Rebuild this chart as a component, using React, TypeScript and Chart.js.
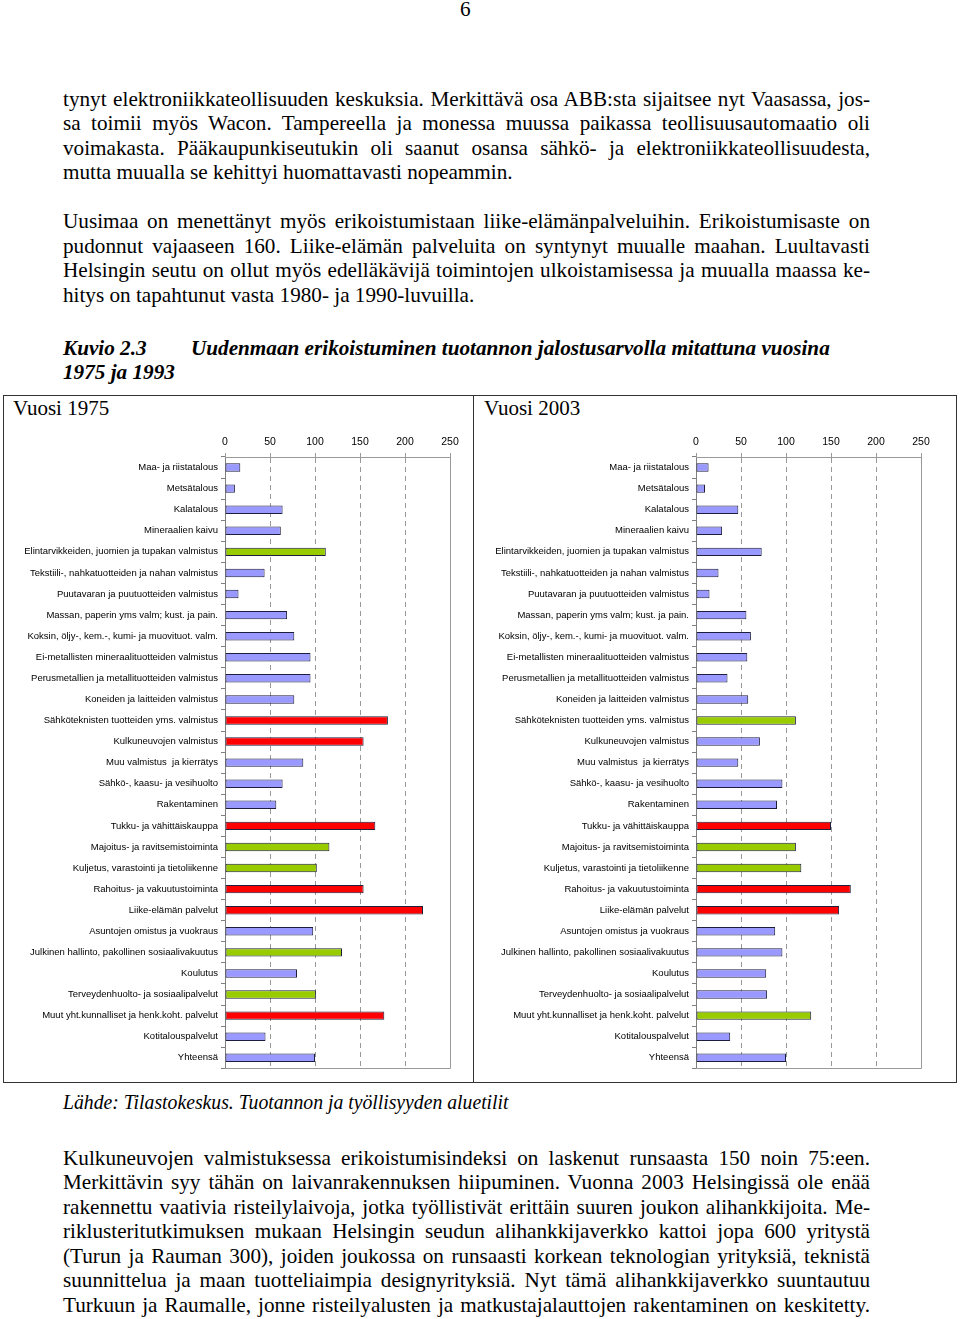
import React, { useEffect, useRef } from 'react';
import { Chart, registerables } from 'chart.js';

Chart.register(...registerables);

// ---------- chart data ----------
const categories: string[] = [
  'Maa- ja riistatalous',
  'Metsätalous',
  'Kalatalous',
  'Mineraalien kaivu',
  'Elintarvikkeiden, juomien ja tupakan valmistus',
  'Tekstiili-, nahkatuotteiden ja nahan valmistus',
  'Puutavaran ja puutuotteiden valmistus',
  'Massan, paperin yms valm; kust. ja pain.',
  'Koksin, öljy-, kem.-, kumi- ja muovituot. valm.',
  'Ei-metallisten mineraalituotteiden valmistus',
  'Perusmetallien ja metallituotteiden valmistus',
  'Koneiden ja laitteiden valmistus',
  'Sähköteknisten tuotteiden yms. valmistus',
  'Kulkuneuvojen valmistus',
  'Muu valmistus  ja kierrätys',
  'Sähkö-, kaasu- ja vesihuolto',
  'Rakentaminen',
  'Tukku- ja vähittäiskauppa',
  'Majoitus- ja ravitsemistoiminta',
  'Kuljetus, varastointi ja tietoliikenne',
  'Rahoitus- ja vakuutustoiminta',
  'Liike-elämän palvelut',
  'Asuntojen omistus ja vuokraus',
  'Julkinen hallinto, pakollinen sosiaalivakuutus',
  'Koulutus',
  'Terveydenhuolto- ja sosiaalipalvelut',
  'Muut yht.kunnalliset ja henk.koht. palvelut',
  'Kotitalouspalvelut',
  'Yhteensä',
];

const values1975: number[] = [
  17, 11, 64, 62, 112, 44, 15, 69, 77, 95, 95, 77, 181, 154, 87, 64, 57, 167, 116,
  102, 154, 220, 98, 130, 80, 101, 177, 45, 100,
];

const values2003: number[] = [
  14, 10, 47, 29, 73, 25, 15, 56, 61, 57, 35, 58, 111, 71, 47, 96, 90, 150, 111,
  117, 172, 159, 88, 96, 78, 79, 128, 38, 100,
];

const xTickValues: number[] = [0, 50, 100, 150, 200, 250];

// ---------- page text ----------
const para1: string[] = [
  'tynyt elektroniikkateollisuuden keskuksia. Merkittävä osa ABB:sta sijaitsee nyt Vaasassa, jos-',
  'sa toimii myös Wacon. Tampereella ja monessa muussa paikassa teollisuusautomaatio oli',
  'voimakasta. Pääkaupunkiseutukin oli saanut osansa sähkö- ja elektroniikkateollisuudesta,',
  'mutta muualla se kehittyi huomattavasti nopeammin.',
];
const para2: string[] = [
  'Uusimaa on menettänyt myös erikoistumistaan liike-elämänpalveluihin. Erikoistumisaste on',
  'pudonnut vajaaseen 160. Liike-elämän palveluita on syntynyt muualle maahan. Luultavasti',
  'Helsingin seutu on ollut myös edelläkävijä toimintojen ulkoistamisessa ja muualla maassa ke-',
  'hitys on tapahtunut vasta 1980- ja 1990-luvuilla.',
];
const para3: string[] = [
  'Kulkuneuvojen valmistuksessa erikoistumisindeksi on laskenut runsaasta 150 noin 75:een.',
  'Merkittävin syy tähän on laivanrakennuksen hiipuminen. Vuonna 2003 Helsingissä ole enää',
  'rakennettu vaativia risteilylaivoja, jotka työllistivät erittäin suuren joukon alihankkijoita. Me-',
  'riklusteritutkimuksen mukaan Helsingin seudun alihankkijaverkko kattoi jopa 600 yritystä',
  '(Turun ja Rauman 300), joiden joukossa on runsaasti korkean teknologian yrityksiä, teknistä',
  'suunnittelua ja maan tuotteliaimpia designyrityksiä. Nyt tämä alihankkijaverkko suuntautuu',
  'Turkuun ja Raumalle, jonne risteilyalusten ja matkustajalauttojen rakentaminen on keskitetty.',
];

const BLUE = '#9999FF';
const GREEN = '#99CC00';
const RED = '#FF0000';

function colorFor(v: number): string {
  if (v >= 150) return RED;
  if (v > 100) return GREEN;
  return BLUE;
}

const plotFrame = {
  id: 'plotFrame',
  afterDatasetsDraw(chart: any) {
    const { ctx, chartArea: a } = chart;
    ctx.save();
    ctx.strokeStyle = '#9a9a9a';
    ctx.lineWidth = 1;
    ctx.setLineDash([]);
    ctx.beginPath();
    ctx.moveTo(a.left, Math.round(a.top) + 0.5);
    ctx.lineTo(Math.round(a.right) + 0.5, Math.round(a.top) + 0.5);
    ctx.lineTo(Math.round(a.right) + 0.5, Math.round(a.bottom) + 0.5);
    ctx.lineTo(a.left, Math.round(a.bottom) + 0.5);
    ctx.stroke();
    ctx.restore();
  },
};

const LABEL_FONT = "'Liberation Sans', Arial, sans-serif";

function BarPanel({ values, left, top }: { values: number[]; left: number; top: number }) {
  const ref = useRef<HTMLCanvasElement | null>(null);
  useEffect(() => {
    if (!ref.current) return;
    const chart = new Chart(ref.current, {
      type: 'bar',
      data: {
        labels: categories,
        datasets: [
          {
            data: values,
            backgroundColor: values.map(colorFor),
            borderColor: '#1d1d3d',
            borderWidth: 1,
            borderSkipped: false,
            barPercentage: 0.4,
            categoryPercentage: 1,
          },
        ],
      },
      options: {
        indexAxis: 'y',
        animation: false,
        responsive: false,
        maintainAspectRatio: false,
        layout: { padding: { left: 0, right: 20, top: 0, bottom: 6 } },
        plugins: { legend: { display: false }, tooltip: { enabled: false } },
        scales: {
          x: {
            position: 'top',
            min: 0,
            max: 250,
            afterBuildTicks: (s: any) => {
              s.ticks = xTickValues.map((v) => ({ value: v }));
            },
            afterFit: (s: any) => {
              s.height = 32;
            },
            grid: {
              color: '#999999',
              lineWidth: 1,
              drawTicks: true,
              tickLength: 4,
              tickColor: '#9a9a9a',
            },
            border: { display: true, color: '#9a9a9a', dash: [5, 4] },
            ticks: {
              color: '#000',
              padding: 5,
              font: { family: LABEL_FONT, size: 10.5 },
            },
          },
          y: {
            afterFit: (s: any) => {
              s.width = 215;
            },
            grid: {
              display: true,
              drawOnChartArea: false,
              drawTicks: true,
              tickLength: 4,
              tickColor: '#808080',
              offset: true,
            },
            border: { display: true, color: '#808080' },
            ticks: {
              autoSkip: false,
              color: '#000',
              padding: 3,
              font: { family: LABEL_FONT, size: 9.5 },
            },
          },
        },
      },
      plugins: [plotFrame],
    } as any);
    return () => chart.destroy();
  }, [values]);
  return (
    <canvas
      ref={ref}
      width={460}
      height={652}
      style={{ position: 'absolute', left, top, width: 460, height: 652 }}
    />
  );
}

const SERIF = "'Liberation Serif', 'Times New Roman', serif";
const FS = 21.2;

function TextLine({
  text,
  center,
  justify,
  left = 63,
  width = 807,
  italic = false,
  bold = false,
  size = FS,
  squeeze = 1,
}: {
  text: string;
  center: number;
  justify?: boolean;
  left?: number;
  width?: number;
  italic?: boolean;
  bold?: boolean;
  size?: number;
  squeeze?: number;
}) {
  return (
    <div
      style={{
        position: 'absolute',
        left,
        top: center - 12,
        width,
        height: 24,
        lineHeight: '24px',
        fontFamily: SERIF,
        fontSize: size,
        fontStyle: italic ? 'italic' : 'normal',
        fontWeight: bold ? 'bold' : 'normal',
        textAlign: justify ? 'justify' : 'left',
        textAlignLast: justify ? 'justify' : 'left',
        whiteSpace: justify ? 'normal' : 'nowrap',
        transform: squeeze !== 1 ? `scaleX(${squeeze})` : undefined,
        transformOrigin: 'left center',
        color: '#000',
      } as any}
    >
      {text}
    </div>
  );
}

export default function App() {
  const p1Centers = [99, 123, 148, 172];
  const p2Centers = [221, 246, 270, 295];
  const p3Centers = [1158, 1182, 1207, 1231, 1256, 1280, 1305];
  return (
    <div
      style={{
        position: 'absolute',
        left: 0,
        top: 0,
        width: 960,
        height: 1319,
        background: '#fff',
        overflow: 'hidden',
      }}
    >
      <TextLine text="6" center={9} left={460} width={20} />
      {para1.map((t, i) => (
        <TextLine key={'a' + i} text={t} center={p1Centers[i]} justify={i < para1.length - 1} />
      ))}
      {para2.map((t, i) => (
        <TextLine key={'b' + i} text={t} center={p2Centers[i]} justify={i < para2.length - 1} />
      ))}
      <TextLine text="Kuvio 2.3" center={348} italic bold width={120} />
      <TextLine
        text="Uudenmaan erikoistuminen tuotannon jalostusarvolla mitattuna vuosina"
        center={348}
        left={191}
        width={700}
        italic
        bold
      />
      <TextLine text="1975 ja 1993" center={372} italic bold width={200} />

      {/* figure frame */}
      <div
        style={{
          position: 'absolute',
          left: 3,
          top: 395,
          width: 954,
          height: 688,
          border: '1px solid #333',
          boxSizing: 'border-box',
        }}
      />
      <div
        style={{
          position: 'absolute',
          left: 473,
          top: 395,
          width: 1,
          height: 688,
          background: '#333',
        }}
      />
      <TextLine text="Vuosi 1975" center={408} left={13} width={200} size={21} />
      <TextLine text="Vuosi 2003" center={408} left={484} width={200} size={21} />

      <BarPanel values={values1975} left={10} top={425} />
      <BarPanel values={values2003} left={481} top={425} />

      <TextLine
        text="Lähde: Tilastokeskus. Tuotannon ja työllisyyden aluetilit"
        center={1102}
        italic
        width={700}
        squeeze={0.93}
      />
      {para3.map((t, i) => (
        <TextLine key={'c' + i} text={t} center={p3Centers[i]} justify />
      ))}
    </div>
  );
}
